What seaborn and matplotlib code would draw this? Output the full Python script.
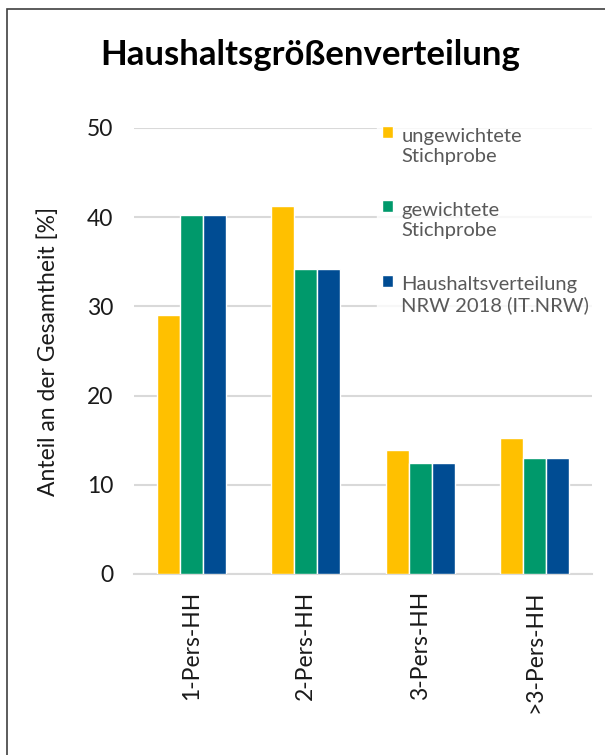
import numpy as np
import pandas as pd
import matplotlib
matplotlib.use("Agg")
import matplotlib.pyplot as plt
import seaborn as sns
from matplotlib.patches import Rectangle
from matplotlib.legend_handler import HandlerPatch

categories = ["1-Pers-HH", "2-Pers-HH", "3-Pers-HH", ">3-Pers-HH"]
series = ["ungewichtete\nStichprobe", "gewichtete\nStichprobe", "Haushaltsverteilung\nNRW 2018 (IT.NRW)"]
ungewichtet = [29.0, 41.3, 13.9, 15.2]
gewichtet = [40.2, 34.2, 12.4, 13.0]
nrw_2018 = [40.2, 34.2, 12.4, 13.0]
colors = ["#FFC000", "#00996B", "#004C93"]

df = pd.DataFrame({
    "Kategorie": categories * 3,
    "Serie": [series[0]] * 4 + [series[1]] * 4 + [series[2]] * 4,
    "Wert": ungewichtet + gewichtet + nrw_2018,
})

sns.set_theme(style="white")
plt.rcParams["font.family"] = ["Lato", "DejaVu Sans"]

fig = plt.figure(figsize=(6.05, 7.55), dpi=100)
W, H = 605, 755
ax = fig.add_axes([134 / W, 1 - 574 / H, (592 - 134) / W, (574 - 128) / H])

sns.barplot(data=df, x="Kategorie", y="Wert", hue="Serie", order=categories,
            hue_order=series, palette=colors, width=0.6, ax=ax,
            edgecolor="white", linewidth=1, saturation=1, zorder=3)

ax.set_ylim(0, 50)
ax.set_yticks([0, 10, 20, 30, 40, 50])
ax.yaxis.grid(True, color="#d9d9d9", linewidth=1.5, zorder=0)
ax.set_axisbelow(True)
for s in ["left", "right", "top"]:
    ax.spines[s].set_visible(False)
ax.spines["bottom"].set_color("#d9d9d9")
ax.spines["bottom"].set_linewidth(1.5)
ax.tick_params(axis="both", length=0, labelsize=16.5, labelcolor="#1a1a1a")
ax.tick_params(axis="y", pad=15)
ax.tick_params(axis="x", pad=12)
plt.setp(ax.get_xticklabels(), rotation=90)
ax.set_xlabel("")
ax.set_ylabel("Anteil an der Gesamtheit [%]", fontsize=16.5, color="#1a1a1a", labelpad=20)


# square marker aligned with the first text line
def top_square(legend, orig_handle, xdescent, ydescent, width, height, fontsize):
    return Rectangle((-xdescent, -ydescent + 0.7 * fontsize), width, height)


handles, labels = ax.get_legend_handles_labels()
leg = ax.legend(handles, labels, loc="upper left", bbox_to_anchor=(377 / W, 1 - 123 / H),
                bbox_transform=fig.transFigure, frameon=True, fontsize=14.5,
                handlelength=0.55, handleheight=0.55, handletextpad=0.4,
                labelspacing=1.85, borderaxespad=0, borderpad=0.25,
                handler_map={h: HandlerPatch(patch_func=top_square) for h in handles})
leg.get_frame().set_facecolor("white")
leg.get_frame().set_edgecolor("white")
for t in leg.get_texts():
    t.set_color("#595959")

fig.text(310 / W, 1 - 55 / H, "Haushaltsgrößenverteilung", ha="center", va="center",
         fontsize=25, fontweight="bold", color="black")

fig.patches.append(Rectangle((7 / W, -0.01), 1.02, 1 - 9 / H + 0.01,
                             transform=fig.transFigure, fill=False,
                             edgecolor="#404040", linewidth=1.2))

fig.savefig("out.png", dpi=100)
